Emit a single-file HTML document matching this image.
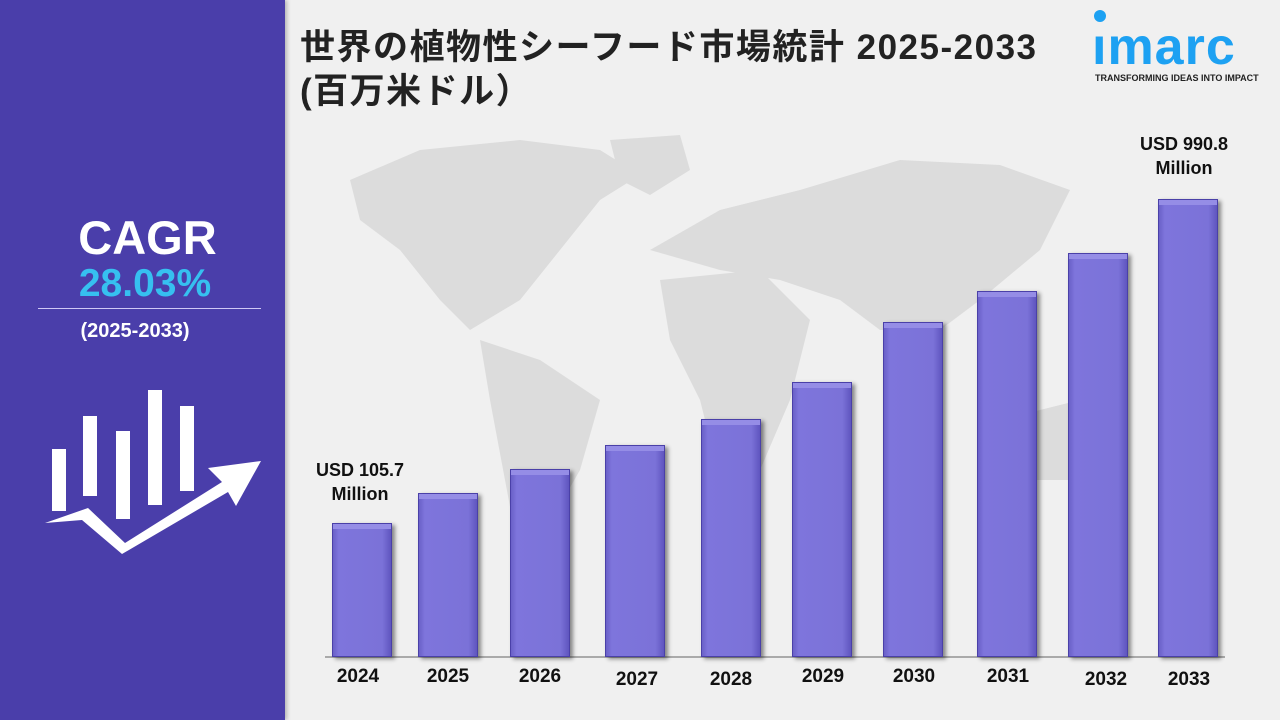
<!DOCTYPE html>
<html><head><meta charset="utf-8"><style>
body{margin:0;width:1280px;height:720px;overflow:hidden;background:#f0f0f0;font-family:"Liberation Sans","Noto Sans CJK JP",sans-serif;position:relative}
.left{position:absolute;left:0;top:0;width:285px;height:720px;background:#4a3eaa;box-shadow:2px 0 4px rgba(0,0,0,.25)}
.t{position:absolute;font-weight:bold}
.bar{position:absolute;width:60px;border:1px solid #4a40a8;box-sizing:border-box;box-shadow:3px 2px 4px rgba(0,0,0,.45);background:linear-gradient(90deg,#6a60c8 0,#7e75dc 10%,#7b72d8 85%,#5f55bf 100%)}
.bar:before{content:"";position:absolute;left:0;right:0;top:0;height:5px;background:#958de6}
.yr{position:absolute;top:666px;width:80px;text-align:center;font-weight:bold;font-size:19px;color:#111}
</style></head><body>
<svg style="position:absolute;left:0;top:0" width="1280" height="720">
<g fill="#dcdcdc">
<path d="M350 180 L420 150 L520 140 L600 150 L640 175 L600 200 L560 250 L520 300 L470 330 L440 300 L400 250 L360 220 Z"/>
<path d="M610 140 L680 135 L690 170 L650 195 L620 180 Z"/>
<path d="M480 340 L540 360 L600 400 L580 470 L540 540 L520 560 L505 480 L490 400 Z"/>
<path d="M650 250 L720 210 L800 190 L900 160 L1000 165 L1070 190 L1040 250 L980 300 L940 330 L880 330 L840 300 L780 280 L720 270 Z"/>
<path d="M660 280 L760 270 L810 320 L790 400 L760 470 L720 480 L700 400 L670 340 Z"/>
<path d="M1000 420 L1080 400 L1110 440 L1090 480 L1020 480 Z"/>
</g>
<line x1="325" y1="657" x2="1225" y2="657" stroke="#aaa" stroke-width="2"/>
</svg>
<div class="left"></div>
<div class="t" style="left:0;width:295px;text-align:center;top:210px;font-size:47px;color:#fff">CAGR</div>
<div class="t" style="left:0;width:290px;text-align:center;top:262px;font-size:39px;color:#36c0f0">28.03%</div>
<div style="position:absolute;left:38px;top:308px;width:223px;height:1px;background:#cfc8f5"></div>
<div class="t" style="left:0;width:270px;text-align:center;top:320px;font-size:20px;color:#fff">(2025-2033)</div>
<svg style="position:absolute;left:0;top:380px" width="290" height="180">
<g fill="#fff">
<rect x="52" y="69" width="14" height="62"/><rect x="83" y="36" width="14" height="80"/><rect x="116" y="51" width="14" height="88"/><rect x="148" y="10" width="14" height="115"/><rect x="180" y="26" width="14" height="85"/>
<path d="M45 143 L88 128 L125 163 L222 102 L208 88 L261 81 L236 126 L228 112 L122 174 L82 140 Z"/>
</g></svg>
<div class="t" style="left:300px;top:26px;font-size:35px;letter-spacing:1.5px;color:#222;line-height:44px;white-space:nowrap">世界の植物性シーフード市場統計 2025-2033<br>(百万米ドル）</div>
<div style="position:absolute;left:1094px;top:10px;width:12px;height:12px;border-radius:50%;background:#1da1f2"></div>
<div class="t" style="left:1092px;top:17px;font-size:52px;color:#1da1f2;letter-spacing:1px">ımarc</div>
<div class="t" style="left:1095px;top:73px;font-size:9px;color:#222">TRANSFORMING IDEAS INTO IMPACT</div>
<div class="bar" style="left:332px;top:523px;height:134px"></div>
<div class="bar" style="left:418px;top:493px;height:164px"></div>
<div class="bar" style="left:510px;top:469px;height:188px"></div>
<div class="bar" style="left:605px;top:445px;height:212px"></div>
<div class="bar" style="left:701px;top:419px;height:238px"></div>
<div class="bar" style="left:792px;top:382px;height:275px"></div>
<div class="bar" style="left:883px;top:322px;height:335px"></div>
<div class="bar" style="left:977px;top:291px;height:366px"></div>
<div class="bar" style="left:1068px;top:253px;height:404px"></div>
<div class="bar" style="left:1158px;top:199px;height:458px"></div>
<div class="yr" style="left:318px">2024</div><div class="yr" style="left:408px">2025</div><div class="yr" style="left:500px">2026</div><div class="yr" style="left:597px;top:669px">2027</div><div class="yr" style="left:691px;top:669px">2028</div><div class="yr" style="left:783px">2029</div><div class="yr" style="left:874px">2030</div><div class="yr" style="left:968px">2031</div><div class="yr" style="left:1066px;top:669px">2032</div><div class="yr" style="left:1149px;top:669px">2033</div>
<div class="t" style="left:300px;width:120px;text-align:center;top:458px;font-size:18px;color:#111;line-height:24px">USD 105.7<br>Million</div>
<div class="t" style="left:1124px;width:120px;text-align:center;top:132px;font-size:18px;color:#111;line-height:24px">USD 990.8<br>Million</div>
</body></html>
